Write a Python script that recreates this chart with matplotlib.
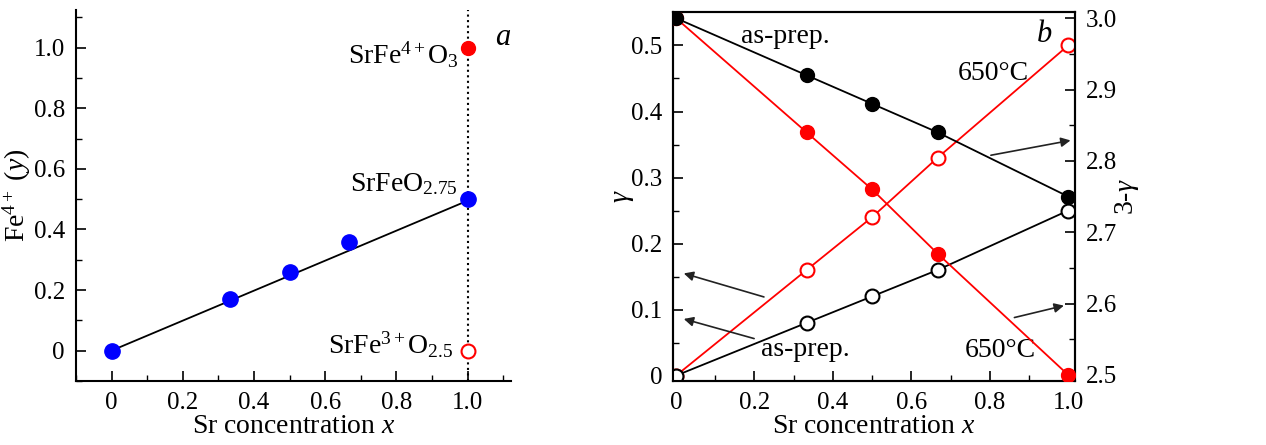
import numpy as np
import matplotlib
matplotlib.use('Agg')
import matplotlib.pyplot as plt
from matplotlib.ticker import MultipleLocator, FormatStrFormatter

plt.rcParams['font.family'] = ['Liberation Serif', 'DejaVu Serif']
plt.rcParams['mathtext.fontset'] = 'custom'
plt.rcParams['mathtext.rm'] = 'Liberation Serif'
plt.rcParams['mathtext.it'] = 'Liberation Serif:italic'

# panel a: Fe4+ fraction vs Sr content
x_a = [0, 0.333, 0.5, 0.667, 1.0]
fe4_a = [0, 0.17, 0.26, 0.36, 0.50]
fit_x = [0, 1.0]
fit_y = [0, 0.495]
ref_x = [1.0, 1.0]
ref_y = [1.0, 0.0]  # SrFeO3 (filled), SrFeO2.5 (open)

# panel b: oxygen deficiency
x_b = [0, 0.333, 0.5, 0.667, 1.0]
gamma_asprep = [0, 0.08, 0.12, 0.16, 0.25]
gamma_650 = [0, 0.16, 0.24, 0.33, 0.50]
ox_asprep = [3.0, 2.92, 2.88, 2.84, 2.75]
ox_650 = [3.0, 2.84, 2.76, 2.67, 2.50]

red = '#ff0000'
blue = '#0000ff'
fs = 20
tfs = 18

fig = plt.figure(figsize=(12.66, 4.45), dpi=100)

# ---------------- panel a
ax = fig.add_axes([0.060, 0.144, 0.344, 0.834])
ax.plot(fit_x, fit_y, color='black', lw=1.3, zorder=2)
ax.plot(x_a, fe4_a, 'o', color=blue, ms=11, zorder=3)
ax.axvline(1.0, color='black', ls=':', lw=1.5, zorder=1)
ax.plot(ref_x[0], ref_y[0], 'o', color=red, ms=10, zorder=3)
ax.plot(ref_x[1], ref_y[1], 'o', mfc='white', mec=red, mew=1.5, ms=10, zorder=3)

ax.set_xlim(-0.1, 1.123)
ax.set_ylim(-0.1, 1.125)
ax.spines['top'].set_visible(False)
ax.spines['right'].set_visible(False)
for s in ['left', 'bottom']:
    ax.spines[s].set_linewidth(1.5)
ax.xaxis.set_minor_locator(MultipleLocator(0.1))
ax.yaxis.set_minor_locator(MultipleLocator(0.1))
ax.set_xticks([0, 0.2, 0.4, 0.6, 0.8, 1.0])
ax.set_xticklabels(['0', '0.2', '0.4', '0.6', '0.8', '1.0'])
ax.set_yticks([0, 0.2, 0.4, 0.6, 0.8, 1.0])
ax.set_yticklabels(['0', '0.2', '0.4', '0.6', '0.8', '1.0'])
ax.tick_params(axis='both', which='major', direction='in', length=7, width=1.2, labelsize=tfs, pad=8)
ax.tick_params(axis='both', which='minor', direction='in', length=4, width=1.0)
ax.set_xlabel('Sr concentration $x$', fontsize=fs, labelpad=0)
ax.set_ylabel('Fe$^{4+}$ ($y$)', fontsize=fs, va='center')
ax.yaxis.set_label_coords(-0.135, 0.5)

ax.text(0.975, 0.975, 'SrFe$^{4+}$O$_3$', fontsize=fs, ha='right', va='center')
ax.text(0.972, 0.55, 'SrFeO$_{2.75}$', fontsize=fs, ha='right', va='center')
ax.text(0.96, 0.02, 'SrFe$^{3+}$O$_{2.5}$', fontsize=fs, ha='right', va='center')
ax.text(1.098, 1.035, '$a$', fontsize=fs + 2, ha='center', va='center')

# ---------------- panel b
bx = fig.add_axes([0.5318, 0.144, 0.3172, 0.828])
bx2 = bx.twinx()

bx.plot(x_b, gamma_650, '-o', color=red, mfc='white', mec=red,
        mew=1.5, ms=10, lw=1.3, zorder=3)
bx.plot(x_b, gamma_asprep, '-o', color='black', mfc='white', mec='black',
        mew=1.5, ms=10, lw=1.3, zorder=4)
bx2.plot(x_b, ox_650, '-o', color=red, ms=10, lw=1.3, zorder=3)
bx2.plot(x_b, ox_asprep, '-o', color='black', ms=10, lw=1.3, zorder=4)

bx.set_xlim(-0.007, 1.017)
bx.set_ylim(-0.008, 0.55)
bx2.set_ylim(2.4916, 3.008)

bx.set_xticks([0, 0.2, 0.4, 0.6, 0.8, 1.0])
bx.set_xticklabels(['0', '0.2', '0.4', '0.6', '0.8', '1.0'])
bx.xaxis.set_minor_locator(MultipleLocator(0.1))
bx.set_yticks([0, 0.1, 0.2, 0.3, 0.4, 0.5])
bx.set_yticklabels(['0', '0.1', '0.2', '0.3', '0.4', '0.5'])
bx.yaxis.set_minor_locator(MultipleLocator(0.05))
bx2.yaxis.set_major_locator(MultipleLocator(0.1))
bx2.yaxis.set_minor_locator(MultipleLocator(0.05))
bx2.yaxis.set_major_formatter(FormatStrFormatter('%.1f'))
for a in (bx, bx2):
    for s in a.spines.values():
        s.set_linewidth(1.5)
    a.tick_params(axis='both', which='major', direction='in', length=7, width=1.2, labelsize=tfs, pad=8)
    a.tick_params(axis='both', which='minor', direction='in', length=4, width=1.0)
bx.set_xlabel('Sr concentration $x$', fontsize=fs, labelpad=0)
bx.set_ylabel('$\\gamma$', fontsize=fs, va='center')
bx.yaxis.set_label_coords(-0.125, 0.5)
bx2.set_ylabel('3-$\\gamma$', fontsize=fs, va='center')
bx2.yaxis.set_label_coords(1.13, 0.5)

arw = dict(arrowstyle='-|>', color='#222222', lw=1.2, mutation_scale=14)
bx.annotate('', xy=(1.013, 0.357), xytext=(0.796, 0.333), arrowprops=arw, annotation_clip=False)
bx.annotate('', xy=(0.996, 0.107), xytext=(0.856, 0.087), arrowprops=arw, annotation_clip=False)
bx.annotate('', xy=(0.013, 0.156), xytext=(0.231, 0.118), arrowprops=arw)
bx.annotate('', xy=(0.013, 0.087), xytext=(0.206, 0.055), arrowprops=arw)

bx.text(0.28, 0.513, 'as-prep.', fontsize=fs, ha='center', va='center')
bx.text(0.81, 0.458, '650°C', fontsize=fs, ha='center', va='center')
bx.text(0.33, 0.039, 'as-prep.', fontsize=fs, ha='center', va='center')
bx.text(0.826, 0.038, '650°C', fontsize=fs, ha='center', va='center')
bx.text(0.938, 0.516, '$b$', fontsize=fs + 2, ha='center', va='center')

fig.savefig('out.png', dpi=100)
